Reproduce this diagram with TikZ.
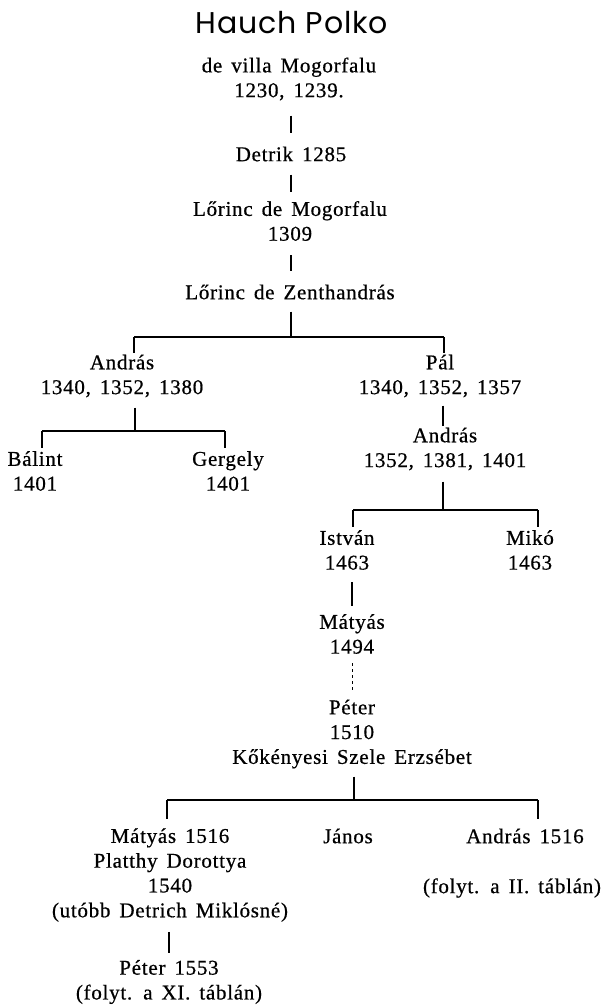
\documentclass[tikz,border=0pt]{standalone}
\usepackage{fontspec}
\setmainfont{Liberation Serif}[LetterSpace=3.5,WordSpace=1.5,FakeBold=0.6]
\newfontfamily\titlefont{Poppins}[LetterSpace=3]
\begin{document}
\begin{tikzpicture}[x=1pt,y=-1pt,
    person/.style={align=center,inner sep=0pt,font=\fontsize{21}{24.8}\selectfont},
    title/.style={inner sep=0pt,font=\titlefont\fontsize{30}{32}\selectfont},
    kin/.style={line width=2.4pt},
    bar/.style={line width=2.4pt},
    twig/.style={line width=1.8pt},
    gap/.style={line width=0.9pt,dash pattern=on 3pt off 3pt}]

    \useasboundingbox (0,0) rectangle (603,1008);

    %persons:
    \node[title]  (polko)     at (292,23)    {Hauch Polko};
    \node[person] (polko-sub) at (289,79)    {de villa Mogorfalu\\1230, 1239.};
    \node[person] (detrik)    at (291,154)   {Detrik 1285};
    \node[person] (mogor)     at (290,221)   {Lőrinc de Mogorfalu\\1309};
    \node[person] (zent)      at (290,292)   {Lőrinc de Zenthandrás};
    \node[person] (andras1)   at (122,376)   {András\\1340, 1352, 1380};
    \node[person] (pal)       at (440,376)   {Pál\\1340, 1352, 1357};
    \node[person] (balint)    at (35,471)    {Bálint\\1401};
    \node[person] (gergely)   at (228,471)   {Gergely\\1401};
    \node[person] (andras2)   at (445,449)   {András\\1352, 1381, 1401};
    \node[person] (istvan)    at (347,550)   {István\\1463};
    \node[person] (miko)      at (530,550)   {Mikó\\1463};
    \node[person] (matyas1)   at (352,634)   {Mátyás\\1494};
    \node[person] (peter1)    at (352,734)   {Péter\\1510\\Kőkényesi Szele Erzsébet};
    \node[person] (matyas2)   at (170,875)   {Mátyás 1516\\Platthy Dorottya\\1540\\(utóbb Detrich Miklósné)};
    \node[person] (janos)     at (348,836)   {János};
    \node[person] (andras3)   at (525,836)   {András 1516};
    \node[person] (folyt2)    at (512,888)   {(folyt. a II. táblán)};
    \node[person] (peter2)    at (169,982)   {Péter 1553\\(folyt. a XI. táblán)};

    %forks:
    \coordinate (z-fork)  at (291,337);
    \coordinate (z-left)  at (134,337);
    \coordinate (z-right) at (444,337);
    \coordinate (a-fork)  at (135,431);
    \coordinate (a-left)  at (42,431);
    \coordinate (a-right) at (225,431);
    \coordinate (m-fork)  at (443,510);
    \coordinate (m-left)  at (353,510);
    \coordinate (m-right) at (538,510);
    \coordinate (e-fork)  at (354,800);
    \coordinate (e-left)  at (167,800);
    \coordinate (e-right) at (538,800);

    %single descents:
    \draw[kin,shorten <=15pt,shorten >=13pt] (polko-sub.south -| detrik) -- (detrik.north);
    \draw[kin,shorten <=13pt,shorten >=9pt] (detrik.south) -- (mogor.north -| detrik);
    \draw[kin,shorten <=14pt,shorten >=13pt] (mogor.south -| detrik) -- (zent.north -| detrik);
    \draw[kin,shorten <=8pt,shorten >=1pt] (pal.south -| m-fork) -- (andras2.north -| m-fork);
    \draw[kin,shorten <=12pt,shorten >=8pt] (istvan.south -| matyas1) -- (matyas1.north);
    \draw[gap,shorten <=9pt,shorten >=7pt] (matyas1.south) -- (peter1.north);
    \draw[kin,shorten <=10pt,shorten >=7pt] (matyas2.south -| peter2) -- (peter2.north);

    %Lőrinc de Zenthandrás:
    \draw[kin,shorten <=12pt] (zent.south -| z-fork) -- (z-fork);
    \draw[bar] (z-left) -- (z-right);
    \draw[twig,shorten >=1pt] (z-left) -- (andras1.north -| z-left);
    \draw[twig,shorten >=1pt] (z-right) -- (pal.north -| z-right);

    %András:
    \draw[kin,shorten <=10pt] (andras1.south -| a-fork) -- (a-fork);
    \draw[bar] (a-left) -- (a-right);
    \draw[twig,shorten >=3pt] (a-left) -- (balint.north -| a-left);
    \draw[twig,shorten >=3pt] (a-right) -- (gergely.north -| a-right);

    %András (Pál fia):
    \draw[kin,shorten <=11pt] (andras2.south -| m-fork) -- (m-fork);
    \draw[bar] (m-left) -- (m-right);
    \draw[twig,shorten >=3pt] (m-left) -- (istvan.north -| m-left);
    \draw[twig,shorten >=3pt] (m-right) -- (miko.north -| m-right);

    %Péter:
    \draw[kin,shorten <=8pt] (peter1.south -| e-fork) -- (e-fork);
    \draw[bar] (e-left) -- (e-right);
    \draw[twig,shorten >=9pt] (e-left) -- (matyas2.north -| e-left);
    \draw[twig,shorten >=9pt] (e-right) -- (andras3.north -| e-right);

\end{tikzpicture}
\end{document}
